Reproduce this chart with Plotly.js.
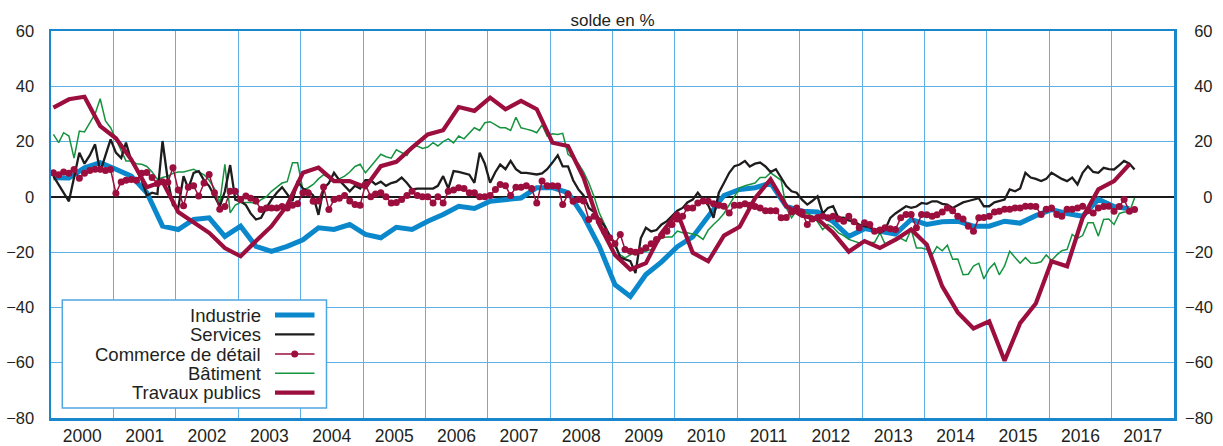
<!DOCTYPE html>
<html>
<head>
<meta charset="utf-8">
<script src="https://cdn.plot.ly/plotly-3.0.1.min.js"></script>
<style>html,body{margin:0;padding:0;background:#fff;}#chart{width:1223px;height:446px;}</style>
</head>
<body>
<div id="chart"></div>
<script>
// ---- Data (monthly series start Jan 2000, quarterly series start 2000 Q1) ----
const seriesNames = ['Industrie', 'Services', 'Commerce de détail', 'Bâtiment', 'Travaux publics'];

// Industrie (quarterly)
const industrieValues = [
  6.9, 6.8, 10.5, 12.4,   10, 7.5, 1.5, -10.6,   -11.8, -8.2, -7.6, -14.3,
  -10.6, -17.9, -19.7, -17.9,   -15.5, -11.2, -11.8, -10,   -13.6, -14.8, -11, -11.8,
  -8.8, -6.4, -3.4, -4.2,   -1.6, -1.2, -0.4, 3.3,   3.3, 1.5, -7, -17.9,
  -31.8, -36, -28.1, -23.5,   -18, -14.5, -7, 0.5,   2.7, 3.3, 5, -3.4,
  -5.2, -5.5, -9, -14.3,   -11.5, -12.4, -13.5, -8.2,   -10, -9, -8.8, -10.6,
  -10.6, -8.8, -9.5, -6.8,   -4.6, -6, -7, -0.9,   -3.5, -4.3
];

// Services (monthly)
const servicesValues = [
  7.5, 4.5, 1.5, -1.6, 7, 16, 12, 15, 19, 9, 15, 20.8,
  16, 14, 19.6, 13, 10, 6, 0.5, 1.5, 1, 20.2, 6, -3,
  -4, 7.5, 3, 8.7, 9.3, 6, 3.9, 0, -3.4, 2, 11.5, -1,
  -1.6, -3, -6, -8.2, -7.6, -4, -1, 1.5, 3.5, 1, -1.5, 5.7,
  3, 2, 0.5, -6.5, 3, 5, 8.7, 6, 4, 2, 4, 3,
  6, 6, 4.5, 5.5, 4, 5, 5.5, 7, 5, 2.7, 3, 3,
  3, 3, 4, 7.5, 3, 9.3, 9, 8.5, 8, 5.1, 16, 12,
  5.1, 9, 11.7, 10, 13, 10, 8.7, 8.7, 8.5, 8.1, 8.5, 10,
  12.4, 15, 11, 11, 6, 2.7, 0.5, -4, -5.5, -8, -10.6, -14,
  -17, -22, -22.5, -23.3, -27.6, -15, -11.2, -12.5, -12, -10, -8.8, -7,
  -5, -4, -2, -1, 1.5, -1, -3, -7.6, 1.5, 5, 8.7, 11.1,
  11.7, 13, 11, 12, 12.4, 11, 9, 10, 7, 3.9, 2, 1.5,
  -1, -2.8, -1.5, 0.2, -6, -4, -3.4, -7.6, -7.5, -8.5, -9, -10,
  -10.6, -11, -12, -13, -12, -7.6, -6, -4.6, -3.4, -4, -3.5, -2.2,
  -2.5, -1.6, -1.6, -2.5, -2.8, -4, -3, -2, -1.5, -1, -0.5, -3.4,
  -3.4, -2, -1.5, -1, 2.7, 2, 3, 8.7, 7, 6.5, 5.7, 6.5,
  8.7, 7.5, 6.5, 5.7, 7, 4.5, 8.7, 11.1, 9, 8.7, 10.5, 10,
  9.9, 11.5, 13, 12, 9.9
];

// Commerce de détail (monthly)
const commerceValues = [
  8.7, 8, 9, 8.5, 9.9, 6.7, 8.5, 9.5, 10, 10, 9.5, 9.9,
  1.3, 5.4, 6, 6.3, 6, 8.5, 8.8, 7, 4.8, 5.5, 5.3, 10.5,
  2.5, -3.2, 3.5, 4, 0.3, 5, 8.1, 1.5, -4.5, -3.5, 2, 2,
  -1, 0.3, -0.5, -1.5, -4.6, -4, -4, -4, -3.5, -4, -3, -2.5,
  1.5, 1.5, -1.6, -1.5, 3.6, -4.6, -1, -0.5, 0.5, -1.5, -2.8, -3,
  4.5, 0, 1, 1.5, 0, -2.2, -2, -1, 0.5, 2, 0.5, 0,
  0, -2.2, 0, -2.2, 2, 2.5, 3.3, 3, 1.5, 1.5, 0, 0,
  0.5, 2.7, 4.5, 4, 0.5, 3.5, 3.5, 4, 3, -2.2, 5.7, 4,
  4, 3.9, -2.8, 0.9, -1.6, -1, -1.5, -8.2, -7, -8.8, -12.4, -14.8,
  -17, -13.6, -19, -19.7, -20, -19.5, -18.4, -17, -15.4, -14, -12.4, -10,
  -8, -7, -4, -4, -2.2, -1.5, -1.6, -2.5, -3, -3.4, -5.8, -3,
  -3, -2.5, -3, -3.5, -4, -5, -5, -5, -7.6, -7.5, -5.5, -4,
  -5.5, -10, -8, -7.5, -7, -7.6, -7, -8, -8.8, -7, -9, -11.2,
  -9.4, -10, -12.4, -12, -11.2, -11.5, -11.8, -7.6, -6.4, -6.4, -11.2, -6.4,
  -6.5, -7, -6.5, -5.5, -4, -5, -7, -8, -10.6, -12.4, -7.6, -7.5,
  -7, -5.5, -5.2, -4.5, -4.5, -4, -4, -3.4, -3.4, -3.5, -6.4, -4.5,
  -4, -6.4, -7, -4.5, -4.5, -4, -3.4, -5, -5.8, -4, -3.5, -3.4,
  -5.2, -3.5, -1, -5.2, -4.6
];

// Bâtiment (monthly)
const batimentValues = [
  22.6, 19.6, 23.2, 22, 14, 23.8, 23.5, 26.5, 30, 35.5, 27.5, 25,
  21, 17, 13, 13, 12, 11.8, 11, 9, 6.3, 7, 7.5, 8.5,
  9, 9, 9.5, 10, 9, 8, 6, 3, -2.2, 11.8, -5.8, -3,
  -2, -2, -2, -2.5, -1, 0, 2, 3.5, 5, 5.5, 12.3, 12.3,
  2.5, 3.3, 4.5, 6.5, 8, 7, 5.5, 6.5, 7.5, 9, 11, 11.8,
  8.7, 11, 13, 15.4, 14.5, 14, 17, 16, 15, 18, 18.4, 17.5,
  18, 19.6, 18.4, 20, 21, 19.5, 22, 21, 23, 25, 24, 26.8,
  27.2, 26, 25, 25, 24, 28.8, 25, 24.5, 24, 23.2, 26, 22,
  22.8, 22.6, 23, 15.4, 14, 12, 9, 5, 0, -5.8, -10, -14,
  -18, -21, -22.1, -21, -20, -20, -19.7, -19, -17, -14.8, -14.5, -14.5,
  -12.4, -13, -13, -13.5, -14, -15.4, -12, -10, -8.2, -6, -2.8, 0.5,
  3.3, 4, 4.5, 5, 7, 7, 8.7, 7.5, 6, -4, -7.6, -5,
  -5, -6, -7, -9, -11.8, -10, -11, -13, -14, -15.4, -16, -16.7,
  -16, -16.5, -16.5, -13, -17, -16, -16, -15, -16, -11.8, -18.5, -18.5,
  -19, -21, -18, -19.5, -17.5, -22.6, -22.5, -28.2, -28, -25, -24, -29.7,
  -26, -24, -28.2, -25, -19.7, -22, -24, -22, -23.9, -24, -23.5, -21,
  -23, -21, -19.5, -19, -13.6, -15, -14, -9.4, -9.4, -14.2, -8.2, -8,
  -10, -6, -5.5, -5.5, -0.4
];

// Travaux publics (quarterly)
const travauxValues = [
  32.3, 35.3, 36.2, 25.6,   21.2, 13.5, 3.5, 5.5,   -5.5, -9.3, -13, -18.5,
  -21.5, -16, -10.6, -3,   8.7, 10.6, 5.7, 5.7,   3.5, 11.1, 12.7, 17.8,
  22.6, 24.1, 32.5, 31.1,   35.9, 31.7, 34.7, 31.7,   19.6, 18.4, 7, -10,
  -21, -26.3, -24, -13,   -5.7, -20.2, -23.3, -14,   -10.8, -0.5, 6.3, -3.4,
  -6.8, -8, -13, -19.8,   -16, -18.5, -15.5, -11.8,   -17.3, -32.4, -41.8, -47.6,
  -45, -59.3, -45.7, -38.6,   -23.3, -25.1, -7.6, 2.7,   5.7, 11.8
];

const yTickVals = [-80, -60, -40, -20, 0, 20, 40, 60];
const yTickTextRight = ['\u221280', '\u221260', '\u221240', '\u221220', '\u2007\u20070', '\u200720', '\u200740', '\u200760'];

// ---- date helpers ----
function pad(n) { return (n < 10 ? '0' : '') + n; }
function monthlyDates(n) {
  const out = [];
  for (let i = 0; i < n; i++) out.push((2000 + Math.floor(i / 12)) + '-' + pad(i % 12 + 1) + '-15');
  return out;
}
function quarterlyDates(n) {
  const out = [];
  for (let i = 0; i < n; i++) out.push((2000 + Math.floor(i / 4)) + '-' + pad((i % 4) * 3 + 1) + '-15');
  return out;
}

const C = {
  blue: '#0b87cc', black: '#1f1c1d', crimson: '#9c0e3e', green: '#16933f',
  grid: '#5eb0e5', frame: '#1a86cb', text: '#231f20'
};

const traces = [
  { name: seriesNames[0], x: quarterlyDates(industrieValues.length), y: industrieValues, mode: 'lines',
    line: { color: C.blue, width: 5 } },
  { name: seriesNames[3], x: monthlyDates(batimentValues.length), y: batimentValues, mode: 'lines',
    line: { color: C.green, width: 1.5 } },
  { name: seriesNames[1], x: monthlyDates(servicesValues.length), y: servicesValues, mode: 'lines',
    line: { color: C.black, width: 2.3 } },
  { name: seriesNames[4], x: quarterlyDates(travauxValues.length), y: travauxValues, mode: 'lines',
    line: { color: C.crimson, width: 4.2 } },
  { name: seriesNames[2], x: monthlyDates(commerceValues.length), y: commerceValues, mode: 'lines+markers',
    line: { color: C.crimson, width: 1.5 }, marker: { color: C.crimson, size: 7 } },
  { x: [], y: [], yaxis: 'y2', mode: 'lines', showlegend: false }
];
traces.forEach(t => { t.hoverinfo = 'skip'; t.showlegend = false; });

// ---- hand-built legend (text right-aligned, sample on the right) ----
const W = 1123, H = 387, L = 51, T = 31;
const px = v => (v - L) / W, py = v => (T + H - v) / H;
const rowsY = [315, 334.3, 354, 373.3, 392.7];
const legendStyle = [
  { color: C.blue, width: 5 }, { color: C.black, width: 2.3 }, { color: C.crimson, width: 1.5 },
  { color: C.green, width: 1.5 }, { color: C.crimson, width: 4.2 }
];
const legendOrder = [0, 1, 2, 3, 4];
const shapes = [{
  type: 'rect', xref: 'paper', yref: 'paper', layer: 'above',
  x0: px(62.3), x1: px(326.5), y0: py(408), y1: py(300),
  line: { color: '#4fa6e0', width: 1.5 }, fillcolor: 'white'
}];
const annotations = [];
legendOrder.forEach((k, i) => {
  shapes.push({ type: 'line', xref: 'paper', yref: 'paper', layer: 'above',
    x0: px(275), x1: px(314.5), y0: py(rowsY[i]), y1: py(rowsY[i]), line: legendStyle[i] });
  annotations.push({ xref: 'paper', yref: 'paper', x: px(262.5), y: py(rowsY[i]), xanchor: 'right', yanchor: 'middle',
    text: seriesNames[k], showarrow: false, font: { size: 18.5, color: C.text } });
});
shapes.push({ type: 'circle', xref: 'paper', yref: 'paper', layer: 'above',
  x0: px(294.7 - 3.5), x1: px(294.7 + 3.5), y0: py(rowsY[2] + 3.5), y1: py(rowsY[2] - 3.5),
  fillcolor: C.crimson, line: { color: C.crimson, width: 0 } });

const layout = {
  width: 1223, height: 446,
  margin: { l: 51, r: 49, t: 31, b: 28, pad: 0 },
  paper_bgcolor: 'white', plot_bgcolor: 'white',
  font: { family: '"Liberation Sans", Arial, Helvetica, sans-serif', color: C.text, size: 16 },
  title: { text: 'solde en %', x: 0.5, xanchor: 'center', xref: 'paper', yref: 'container', y: 1 - 20 / 446, yanchor: 'middle',
    font: { size: 17, color: C.text } },
  showlegend: false,
  hovermode: false,
  xaxis: {
    type: 'date', range: ['2000-01-01', '2018-01-01'], tick0: '2000-01-01', dtick: 'M12',
    tickformat: '%Y', ticklabelmode: 'period', ticks: '', ticklabelstandoff: 0,
    showgrid: true, gridcolor: C.grid, gridwidth: 1,
    showline: true, linecolor: C.frame, linewidth: 2.5, mirror: true,
    zeroline: false, automargin: false, fixedrange: true,
    tickfont: { size: 17.5, color: C.text }
  },
  yaxis: {
    range: [-80, 60], tickvals: yTickVals, ticks: '', ticklabelstandoff: 11,
    showgrid: true, gridcolor: C.grid, gridwidth: 1,
    zeroline: true, zerolinecolor: '#1a1a1a', zerolinewidth: 1.6,
    showline: true, linecolor: C.frame, linewidth: 2.5, mirror: true,
    automargin: false, fixedrange: true,
    tickfont: { size: 16.5, color: C.text }
  },
  yaxis2: {
    overlaying: 'y', side: 'right', range: [-80, 60], tickvals: yTickVals, ticktext: yTickTextRight,
    ticks: '', ticklabelstandoff: 10, showgrid: false, zeroline: false, showline: false,
    automargin: false, fixedrange: true,
    tickfont: { size: 16.5, color: C.text }
  },
  shapes: shapes,
  annotations: annotations
};

Plotly.newPlot('chart', traces, layout, { staticPlot: true, displayModeBar: false });
</script>
</body>
</html>
